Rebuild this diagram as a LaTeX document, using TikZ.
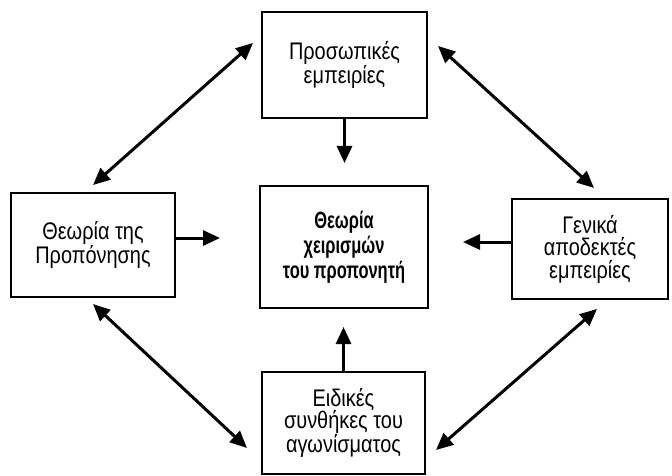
\documentclass[tikz,border=0pt]{standalone}
\usepackage{fontspec}
\setmainfont{Liberation Sans}[FakeStretch=0.83,BoldFeatures={FakeStretch=0.7}]
\usetikzlibrary{arrows.meta}

\tikzset{
  box/.style={draw, line width=2.8pt, align=center, inner sep=0pt,
    font=\fontsize{24}{22.5}\selectfont},
  link/.style={line width=3pt, -{Triangle[length=17pt,width=15pt]}},
  twolink/.style={line width=3pt,
    {Triangle[length=17pt,width=15pt]}-{Triangle[length=17pt,width=15pt]}},
}

\begin{document}
\begin{tikzpicture}[x=1pt,y=-1pt]
                \useasboundingbox (0,0) rectangle (672,476);

                \coordinate (P) at (344.5,65);
                \coordinate (T) at (93,245);
                \coordinate (C) at (344,247);
                \coordinate (G) at (590,249);
                \coordinate (E) at (343.5,423);

                \node[box, minimum width=165pt, minimum height=106pt] (pros) at (P) {Προσωπικές\\εμπειρίες};
                \node[box, minimum width=164pt, minimum height=104pt] (theo) at (T) {Θεωρία της\\Προπόνησης};
                \node[box, minimum width=168pt, minimum height=122pt, font=\fontsize{23.5}{25}\selectfont\bfseries] (centre) at (C) {Θεωρία\\χειρισμών\\του προπονητή};
                \node[box, minimum width=156pt, minimum height=100pt] (gen) at (G) {Γενικά\\αποδεκτές\\εμπειρίες};
                \node[box, minimum width=163pt, minimum height=102pt] (eid) at (E) {Ειδικές\\συνθήκες του\\αγωνίσματος};

                \coordinate (pt) at (344.5,163);
                \coordinate (tt) at (220,238);
                \coordinate (gt) at (463,242);
                \coordinate (et) at (343.5,327);

                \coordinate (tl1) at (93,185);
                \coordinate (tl2) at (253,43);
                \coordinate (tr1) at (438,46);
                \coordinate (tr2) at (594,188);
                \coordinate (bl1) at (93,304);
                \coordinate (bl2) at (247,448);
                \coordinate (br1) at (597,309);
                \coordinate (br2) at (436,450);

                \draw[link] (pros.south) -- (pt);
                \draw[link] ([yshift=7pt]theo.east) -- (tt);
                \draw[link] ([yshift=7pt]gen.west) -- (gt);
                \draw[link] (eid.north) -- (et);

                \draw[twolink] (tl1) -- (tl2);
                \draw[twolink] (tr1) -- (tr2);
                \draw[twolink] (bl1) -- (bl2);
                \draw[twolink] (br1) -- (br2);
            \end{tikzpicture}
\end{document}
